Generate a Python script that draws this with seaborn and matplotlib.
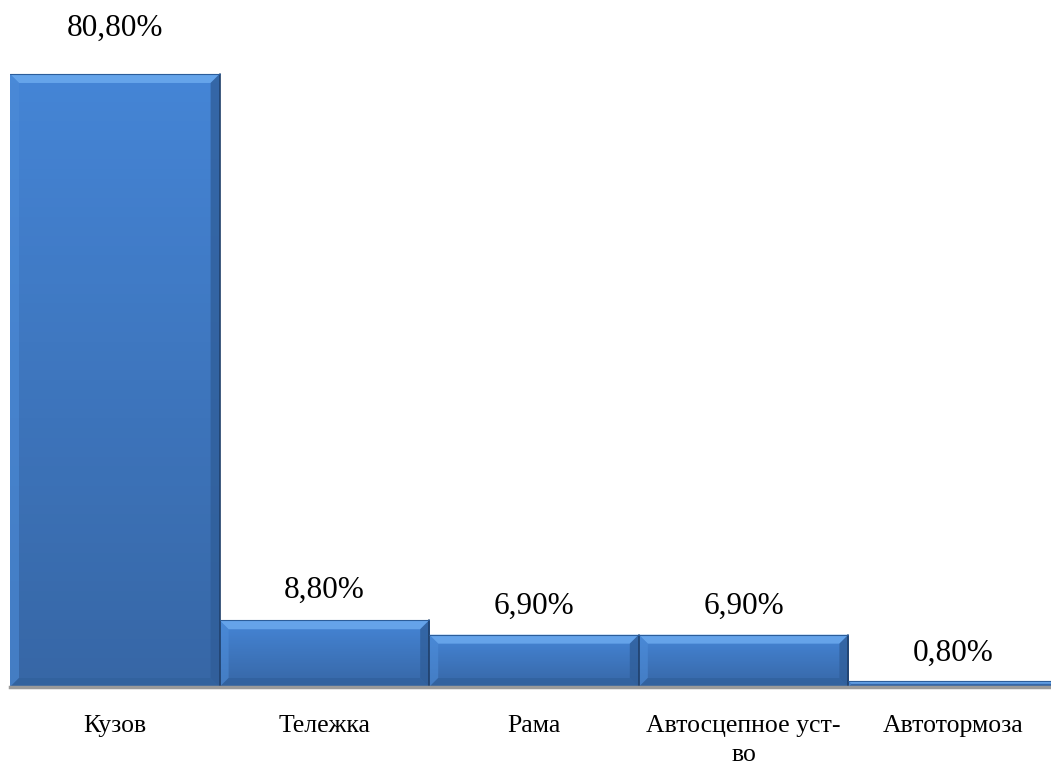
import numpy as np
import pandas as pd
import matplotlib
matplotlib.use("Agg")
import matplotlib.pyplot as plt
from matplotlib.patches import Polygon
from matplotlib.colors import LinearSegmentedColormap
import seaborn as sns

categories = ["Кузов", "Тележка", "Рама", "Автосцепное уст-\nво", "Автотормоза"]
shares = [80.8, 8.8, 6.9, 6.9, 0.8]
value_labels = ["80,80%", "8,80%", "6,90%", "6,90%", "0,80%"]

# gap between bar top and label centre, in pixels
label_gap_px = [46, 30, 28, 28, 28]

sns.set_theme(style="white")
plt.rcParams["font.family"] = ["Liberation Serif", "DejaVu Serif"]

df = pd.DataFrame({"part": categories, "share": shares})

fig = plt.figure(figsize=(10.51, 7.65), dpi=100)
ax = fig.add_axes([10 / 1051, 78 / 765, 1048 / 1051, 687 / 765])

sns.barplot(data=df, x="part", y="share", color="#4382d2", width=1.0,
            saturation=1, ax=ax, zorder=2)

ax.set_xlim(-0.5, len(categories) - 0.5)
ax.set_ylim(0, 90.55)

# pixel-to-data scale for the bevel decoration
fig.canvas.draw()
inv = ax.transData.inverted()
p0 = inv.transform((0, 0))
p1 = inv.transform((1, 1))
dx_px, dy_px = p1[0] - p0[0], p1[1] - p0[1]

grad = LinearSegmentedColormap.from_list("g", ["#3767a6", "#4585d6"])
bev = 9  # bevel width in pixels
for patch, lab, gap in zip(ax.patches, value_labels, label_gap_px):
    x0, y0 = patch.get_x(), patch.get_y()
    w, h = patch.get_width(), patch.get_height()
    x1, y1 = x0 + w, y0 + h
    patch.set_edgecolor("none")
    # vertical gradient body
    im = ax.imshow(np.linspace(0, 1, 64).reshape(-1, 1), cmap=grad, origin="lower",
                   extent=(x0, x1, y0, y1), aspect="auto", zorder=2.5)
    im.set_clip_path(patch)
    b = min(bev, (h / dy_px) / 2.2)
    bx, by = b * dx_px, b * dy_px
    # bevel faces: top light, left medium, right dark, bottom dark
    faces = [
        ([(x0, y1), (x1, y1), (x1 - bx, y1 - by), (x0 + bx, y1 - by)], "#6eacf0", 0.8),
        ([(x0, y0), (x0, y1), (x0 + bx, y1 - by), (x0 + bx, y0 + by)], "#4d8cd8", 0.6),
        ([(x1, y0), (x1, y1), (x1 - bx, y1 - by), (x1 - bx, y0 + by)], "#2f5d98", 0.75),
        ([(x0, y0), (x1, y0), (x1 - bx, y0 + by), (x0 + bx, y0 + by)], "#30609c", 0.7),
    ]
    for pts, col, a in faces:
        ax.add_patch(Polygon(pts, closed=True, facecolor=col, edgecolor="none",
                             alpha=a, zorder=3))
    # thin dark outline on the shaded side
    ax.plot([x1, x1], [y0, y1], color="#1f3f6a", lw=1.2, zorder=3.5)
    ax.plot([x0, x1], [y1, y1], color="#2c5d9a", lw=0.8, zorder=3.5)
    ax.text(x0 + w / 2, y1 + gap * dy_px, lab, ha="center", va="center",
            fontsize=22.5, color="#000000", zorder=4)

sns.despine(ax=ax, left=True, top=True, right=True)
ax.spines["bottom"].set_color("#9a9a9a")
ax.spines["bottom"].set_linewidth(2.5)
ax.spines["bottom"].set_zorder(5)
ax.set_yticks([])
ax.set_xlabel("")
ax.set_ylabel("")
ax.tick_params(axis="x", length=0, pad=20, labelsize=18.5, labelcolor="#000000")
for t in ax.get_xticklabels():
    t.set_linespacing(1.45)
    t.set_verticalalignment("top")

fig.savefig("out.png", dpi=100, facecolor="white")
